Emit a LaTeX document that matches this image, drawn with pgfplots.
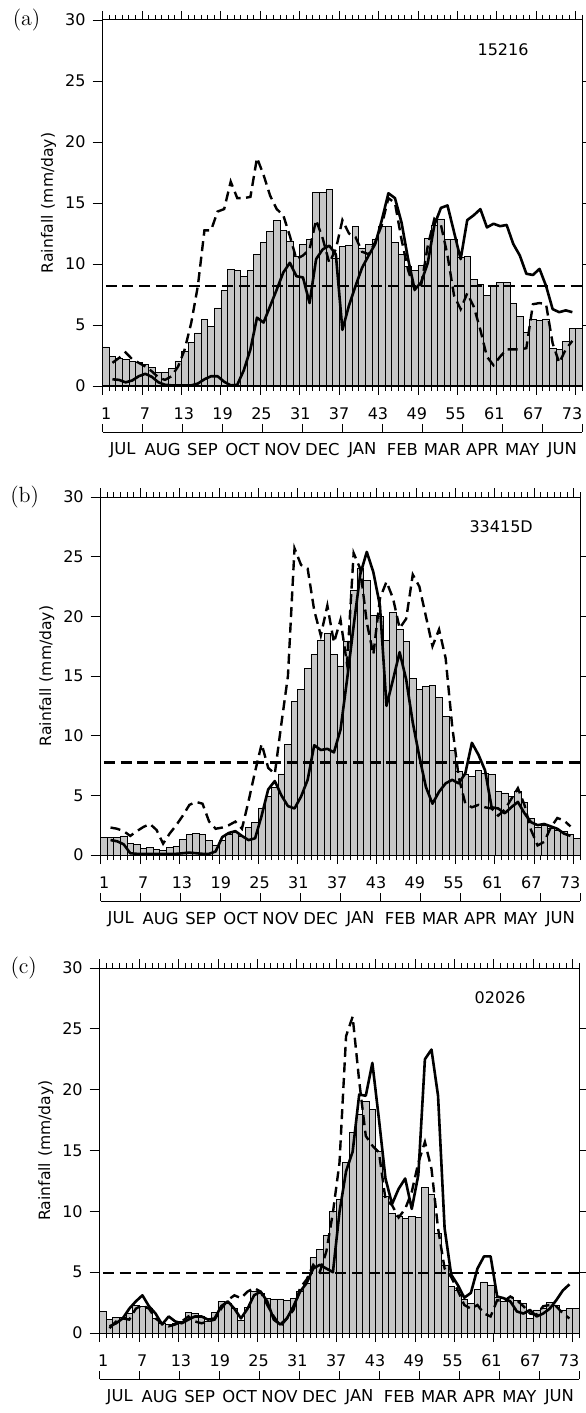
\documentclass[border=0pt]{standalone}
\usepackage{pgfplots}
\pgfplotsset{compat=1.18}
\usepackage{fontspec}
\newfontfamily\sansf{DejaVu Sans}

\newcommand\lab{\sansf\fontsize{8}{9.5}\selectfont}
\newcommand\mlab{\sansf\fontsize{8.2}{9.5}\selectfont}

\pgfplotsset{
  panel/.style={
    scale only axis, width=239.8pt,
    xmin=0.5, xmax=73.5, ymin=0, ymax=30,
    axis line style={line width=0.5pt},
    tick align=outside, xtick pos=left, ytick pos=left,
    xtick={1.05,6.958,12.867,18.775,24.683,30.592,36.5,42.408,48.317,54.225,60.133,66.042,71.95},
    xticklabels={1,7,13,19,25,31,37,43,49,55,61,67,73},
    ytick={0,5,...,30},
    major tick length=5pt,
    tick style={line width=0.4pt, black},
    xtick style={draw=none},
    /pgf/number format/assume math mode=true,
    tick label style={font=\lab},
    xticklabel style={yshift=-2.5pt},
    ylabel={Rainfall\hspace{3pt}(mm/day)},
    ylabel style={font=\sansf\fontsize{7.8}{9}\selectfont, at={(axis description cs:0,0.5)}, yshift=27pt, anchor=center},
    clip=false,
  },
  frameticks/.style={
    scale only axis, width=239.8pt,
    xmin=0.5, xmax=73.5, ymin=0, ymax=30,
    axis line style={line width=0.5pt},
    tick align=outside, xtick pos=both, ytick pos=right,
    xtick={0.5,6.5,...,72.5}, minor xtick={0.5,1.5,...,73.5},
    ytick={5,10,...,25}, xticklabels={}, yticklabels={},
    major tick length=4.5pt, minor tick length=2.5pt,
    tick style={line width=0.4pt, black},
  },
  bars/.style={ybar, bar width=1, draw=black, line width=0.35pt, fill=black!22},
  obs/.style={black, line width=1.3pt, line join=round},
  mod/.style={black, line width=1.2pt, dash pattern=on 5pt off 2.8pt},
  avg/.style={black, line width=1.1pt, dash pattern=on 5.5pt off 2.8pt},
}

\newcommand\monthbracket[1]{%
  \begin{scope}[shift={(#1.south west)}]
    \draw[line width=0.4pt] (0,-23pt) -- (239.8pt,-23pt);
    \foreach \k in {0,...,12} \draw[line width=0.4pt] (\k*19.9833pt,-23pt) -- ++(0,4pt);
    \foreach \m [count=\k from 0] in {JUL,AUG,SEP,OCT,NOV,DEC,JAN,FEB,MAR,APR,MAY,JUN}
      \node[font=\mlab, inner sep=0pt] at ({(\k+0.5)*19.9833pt},-32pt) {\m};
  \end{scope}}

\begin{document}
\begin{tikzpicture}
\useasboundingbox (0,0) rectangle (292.5pt,-706.5pt);

% ---------------- (a)
\begin{axis}[panel, name=pa, at={(51.3pt,-10pt)}, anchor=north west, height=183pt]
\addplot[bars] coordinates {
(1,3.2)(2,2.4)(3,2.25)(4,2.15)(5,2.0)(6,1.9)(7,1.75)(8,1.5)(9,1.1)(10,1.1)
(11,1.45)(12,2.05)(13,2.85)(14,3.6)(15,4.35)(16,5.45)(17,4.9)(18,6.4)(19,7.8)(20,9.55)
(21,9.45)(22,9.0)(23,9.45)(24,10.8)(25,11.8)(26,12.65)(27,13.55)(28,12.75)(29,11.85)(30,10.6)
(31,11.6)(32,12.0)(33,15.9)(34,15.9)(35,16.1)(36,10.5)(37,11.45)(38,11.5)(39,13.1)(40,11.25)
(41,11.6)(42,12.05)(43,13.1)(44,13.1)(45,11.8)(46,10.8)(47,9.8)(48,9.45)(49,9.85)(50,12.1)
(51,13.2)(52,13.7)(53,12.0)(54,12.0)(55,10.55)(56,10.6)(57,8.75)(58,8.35)(59,7.4)(60,8.15)
(61,8.5)(62,8.5)(63,6.8)(64,5.7)(65,4.4)(66,5.45)(67,5.4)(68,5.5)(69,3.05)(70,3.0)
(71,3.65)(72,4.7)(73,4.75)};
\addplot[obs] coordinates {
(2,0.55)(3,0.5)(4,0.3)(5,0.45)(6,0.8)(7,1.0)(8,0.75)(9,0.3)(10,0.1)
(11,0.05)(12,0.05)(13,0.05)(14,0.05)(15,0.2)(16,0.55)(17,0.8)(18,0.8)(19,0.35)(20,0.05)
(21,0.1)(22,1.3)(23,3.0)(24,5.6)(25,5.2)(26,6.55)(27,7.9)(28,9.3)(29,10.1)(30,9.0)
(31,8.9)(32,6.8)(33,10.4)(34,11.2)(35,11.5)(36,10.8)(37,4.6)(38,6.6)(39,8.2)(40,9.7)
(41,10.7)(42,11.65)(43,13.6)(44,15.8)(45,15.4)(46,13.4)(47,10.4)(48,7.9)(49,8.5)(50,10.1)
(51,13.2)(52,14.6)(53,14.8)(54,12.6)(55,10.4)(56,13.6)(57,14.0)(58,14.5)(59,13.0)(60,13.3)
(61,13.1)(62,13.2)(63,11.65)(64,10.7)(65,9.2)(66,9.1)(67,9.6)(68,8.2)(69,6.3)(70,6.05)
(71,6.2)(72,6.05)};
\addplot[mod] coordinates {
(2,1.9)(3,2.3)(4,2.75)(5,2.2)(6,1.9)(7,1.6)(8,1.2)(9,0.7)(10,0.5)
(11,0.8)(12,1.6)(13,3.0)(14,5.2)(15,8.2)(16,12.75)(17,12.75)(18,14.3)(19,14.5)(20,16.75)
(21,15.4)(22,15.4)(23,15.5)(24,18.7)(25,17.3)(26,15.6)(27,14.5)(28,14.0)(29,12.3)(30,10.4)
(31,10.7)(32,11.2)(33,13.6)(34,12.1)(35,10.1)(36,11.2)(37,13.6)(38,12.5)(39,12.2)(40,11.0)
(41,10.8)(42,11.8)(43,13.2)(44,15.4)(45,15.0)(46,12.0)(47,9.5)(48,7.9)(49,8.3)(50,11.5)
(51,13.7)(52,13.2)(53,10.7)(54,7.4)(55,6.3)(56,7.6)(57,6.5)(58,4.6)(59,2.4)(60,1.7)
(61,2.4)(62,3.0)(63,3.0)(64,3.0)(65,3.1)(66,6.7)(67,6.8)(68,6.7)(69,3.5)(70,1.9)
(71,3.0)(72,3.7)};
\addplot[avg] coordinates {(1,8.2)(73.4,8.2)};
\node[font=\fontsize{11}{13}\selectfont] at ([xshift=-38pt]rel axis cs:0,1) {(a)};
\node[font=\lab] at ([yshift=-15pt]rel axis cs:0.835,1) {15216};
\end{axis}
\begin{axis}[frameticks, at={(51.3pt,-10pt)}, anchor=north west, height=183pt]
\end{axis}
\monthbracket{pa}

% ---------------- (b)
\begin{axis}[panel, name=pb, at={(50.35pt,-248.5pt)}, anchor=north west, height=179pt]
\addplot[bars] coordinates {
(1,1.5)(2,1.5)(3,1.5)(4,1.6)(5,1.0)(6,0.9)(7,0.55)(8,0.65)(9,0.5)(10,0.4)
(11,0.6)(12,0.75)(13,1.3)(14,1.75)(15,1.8)(16,1.7)(17,1.2)(18,0.85)(19,1.2)(20,1.7)
(21,1.9)(22,1.6)(23,2.3)(24,2.7)(25,3.95)(26,4.9)(27,5.65)(28,6.8)(29,9.25)(30,12.85)
(31,13.85)(32,15.65)(33,16.8)(34,18.0)(35,18.6)(36,16.8)(37,15.85)(38,17.9)(39,22.2)(40,24.0)
(41,23.0)(42,20.1)(43,20.0)(44,18.0)(45,20.3)(46,18.9)(47,17.9)(48,14.8)(49,13.9)(50,14.1)
(51,14.2)(52,13.2)(53,11.6)(54,8.75)(55,7.0)(56,6.8)(57,6.6)(58,7.1)(59,6.85)(60,6.75)
(61,5.35)(62,5.2)(63,4.9)(64,5.3)(65,4.4)(66,3.1)(67,2.3)(68,2.5)(69,2.25)(70,2.1)
(71,1.95)(72,1.7)(73,1.4)};
\addplot[obs] coordinates {
(2,1.25)(3,1.15)(4,0.9)(5,0.15)(6,0.1)(7,0.1)(8,0.1)(9,0.1)(10,0.1)
(11,0.1)(12,0.1)(13,0.15)(14,0.2)(15,0.15)(16,0.1)(17,0.1)(18,0.3)(19,1.5)(20,1.85)
(21,2.0)(22,1.6)(23,1.25)(24,1.4)(25,3.3)(26,5.5)(27,6.2)(28,5.0)(29,4.1)(30,3.9)
(31,4.9)(32,6.3)(33,9.2)(34,8.8)(35,8.9)(36,8.6)(37,10.5)(38,14.7)(39,19.2)(40,23.5)
(41,25.4)(42,23.7)(43,20.9)(44,12.5)(45,14.7)(46,17.0)(47,14.7)(48,11.1)(49,8.25)(50,5.7)
(51,4.3)(52,5.3)(53,6.0)(54,6.3)(55,6.0)(56,6.85)(57,9.4)(58,8.4)(59,7.1)(60,4.0)
(61,3.9)(62,3.5)(63,4.0)(64,4.45)(65,3.5)(66,2.75)(67,2.5)(68,2.6)(69,2.4)(70,2.2)
(71,1.8)(72,1.6)};
\addplot[mod] coordinates {
(2,2.3)(3,2.2)(4,2.0)(5,1.6)(6,2.0)(7,2.35)(8,2.6)(9,2.1)(10,0.95)
(11,1.8)(12,2.5)(13,3.3)(14,4.2)(15,4.45)(16,4.3)(17,2.8)(18,2.2)(19,2.3)(20,2.5)
(21,2.8)(22,2.2)(23,4.5)(24,7.0)(25,9.3)(26,7.3)(27,6.8)(28,11.0)(29,15.0)(30,25.7)
(31,24.3)(32,24.0)(33,20.5)(34,18.4)(35,20.9)(36,17.8)(37,19.7)(38,16.0)(39,25.3)(40,24.0)
(41,19.5)(42,16.8)(43,21.5)(44,22.9)(45,21.5)(46,19.0)(47,19.8)(48,23.5)(49,22.5)(50,20.0)
(51,17.5)(52,18.9)(53,16.5)(54,10.8)(55,6.5)(56,4.3)(57,4.0)(58,4.2)(59,4.0)(60,3.9)
(61,3.3)(62,3.8)(63,4.7)(64,5.6)(65,4.2)(66,2.1)(67,0.8)(68,1.1)(69,2.3)(70,3.1)
(71,2.9)(72,2.4)};
\addplot[avg] coordinates {(1,7.75)(73.4,7.75)};
\node[font=\fontsize{11}{13}\selectfont] at ([xshift=-38pt]rel axis cs:0,1) {(b)};
\node[font=\lab] at ([yshift=-15pt]rel axis cs:0.835,1) {33415D};
\end{axis}
\begin{axis}[frameticks, at={(50.35pt,-248.5pt)}, anchor=north west, height=179pt]
\end{axis}
\monthbracket{pb}

% ---------------- (c)
\begin{axis}[panel, name=pc, at={(49.85pt,-484pt)}, anchor=north west, height=182.5pt]
\addplot[bars] coordinates {
(1,1.75)(2,1.15)(3,1.25)(4,1.3)(5,1.6)(6,2.3)(7,2.2)(8,2.0)(9,1.2)(10,0.8)
(11,0.7)(12,0.8)(13,0.95)(14,1.7)(15,1.6)(16,1.35)(17,0.95)(18,1.7)(19,2.6)(20,2.45)
(21,2.0)(22,1.0)(23,2.1)(24,3.4)(25,3.25)(26,2.85)(27,2.8)(28,2.8)(29,2.7)(30,2.85)
(31,3.4)(32,4.1)(33,6.2)(34,6.9)(35,8.0)(36,10.0)(37,11.0)(38,14.0)(39,16.5)(40,18.0)
(41,19.0)(42,18.4)(43,14.9)(44,11.2)(45,9.85)(46,9.6)(47,9.4)(48,9.6)(49,9.5)(50,12.0)
(51,11.4)(52,8.2)(53,5.6)(54,3.8)(55,3.5)(56,2.8)(57,2.45)(58,3.6)(59,4.2)(60,3.95)
(61,2.9)(62,2.6)(63,2.9)(64,2.7)(65,2.4)(66,1.2)(67,1.9)(68,2.0)(69,2.5)(70,2.3)
(71,1.9)(72,2.0)(73,2.0)};
\addplot[obs] coordinates {
(2,0.55)(3,0.8)(4,1.2)(5,2.0)(6,2.6)(7,3.1)(8,2.2)(9,1.6)(10,0.7)
(11,1.36)(12,0.95)(13,0.8)(14,1.1)(15,1.36)(16,1.36)(17,1.1)(18,1.2)(19,2.2)(20,2.6)
(21,2.0)(22,1.2)(23,2.0)(24,3.1)(25,3.4)(26,2.6)(27,1.1)(28,0.7)(29,1.2)(30,2.2)
(31,3.4)(32,4.1)(33,5.3)(34,5.6)(35,5.3)(36,5.0)(37,9.95)(38,13.3)(39,14.9)(40,19.6)
(41,19.5)(42,22.2)(43,17.6)(44,12.7)(45,10.6)(46,11.85)(47,12.7)(48,10.2)(49,13.0)(50,22.5)
(51,23.3)(52,19.5)(53,8.6)(54,4.8)(55,3.95)(56,2.9)(57,3.3)(58,5.3)(59,6.3)(60,6.3)
(61,3.0)(62,2.86)(63,2.6)(64,1.77)(65,1.6)(66,1.9)(67,1.36)(68,1.6)(69,2.0)(70,2.7)
(71,3.5)(72,4.0)};
\addplot[mod] coordinates {
(2,0.4)(3,0.95)(4,1.2)(5,1.1)(6,2.0)(7,2.3)(8,2.0)(9,1.2)(10,0.8)
(11,0.55)(12,0.7)(13,0.95)(14,1.36)(15,0.95)(16,0.8)(17,0.95)(18,1.1)(19,2.0)(20,2.7)
(21,3.1)(22,2.86)(23,3.4)(24,3.7)(25,3.4)(26,2.3)(27,1.36)(28,0.55)(29,1.2)(30,1.9)
(31,3.7)(32,4.4)(33,5.6)(34,5.0)(35,6.7)(36,9.9)(37,14.0)(38,24.4)(39,26.0)(40,20.7)
(41,16.2)(42,15.4)(43,14.85)(44,11.0)(45,10.5)(46,9.5)(47,10.2)(48,11.6)(49,14.0)(50,15.7)
(51,13.5)(52,8.6)(53,5.3)(54,4.6)(55,3.5)(56,2.3)(57,2.0)(58,2.3)(59,1.6)(60,1.36)
(61,2.7)(62,2.6)(63,3.0)(64,2.7)(65,2.2)(66,1.6)(67,1.5)(68,2.2)(69,2.3)(70,2.2)
(71,1.6)(72,1.2)};
\addplot[avg] coordinates {(1,4.9)(73.4,4.9)};
\node[font=\fontsize{11}{13}\selectfont] at ([xshift=-38pt]rel axis cs:0,1) {(c)};
\node[font=\lab] at ([yshift=-15pt]rel axis cs:0.835,1) {02026};
\end{axis}
\begin{axis}[frameticks, at={(49.85pt,-484pt)}, anchor=north west, height=182.5pt]
\end{axis}
\monthbracket{pc}

\end{tikzpicture}
\end{document}
